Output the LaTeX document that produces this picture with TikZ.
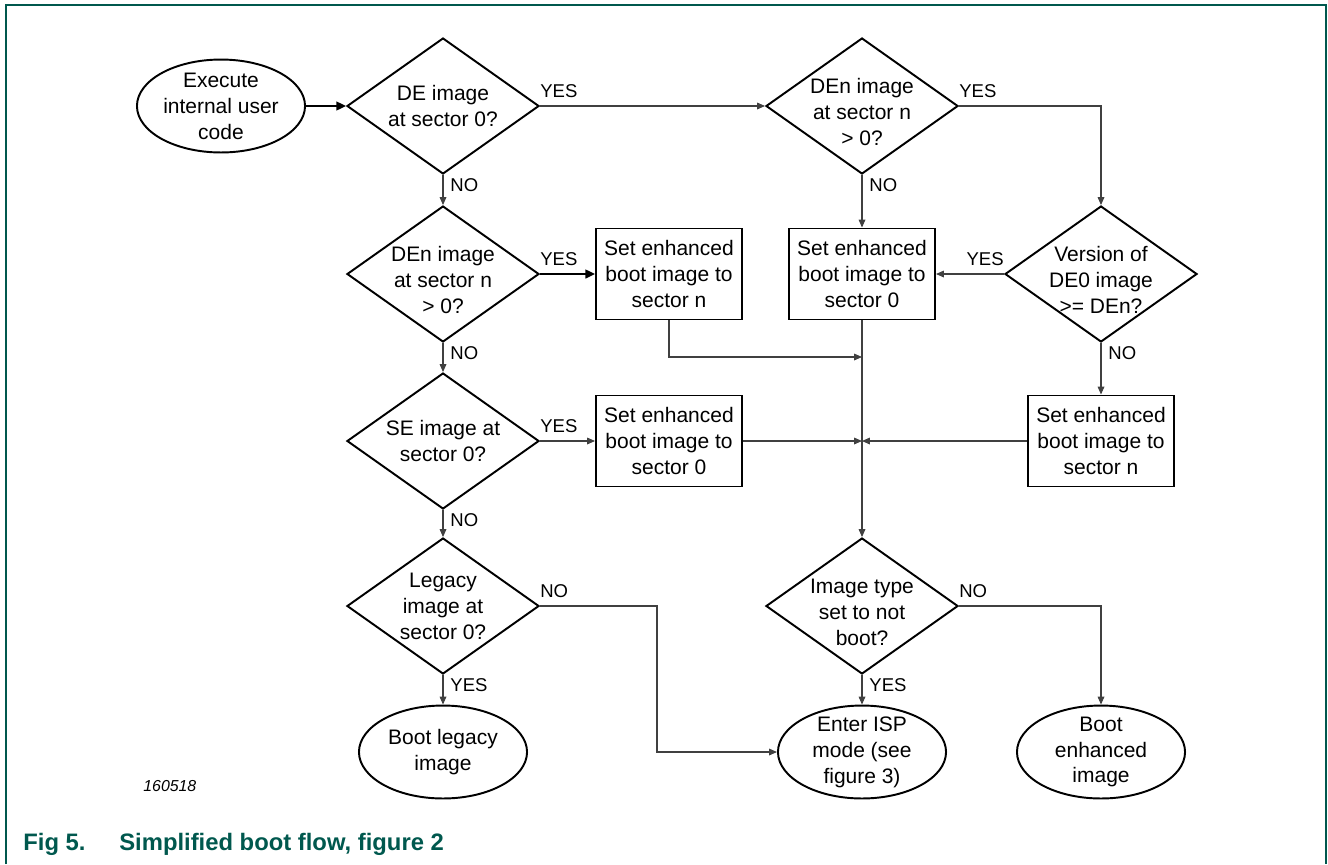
\documentclass[tikz,border=0pt]{standalone}
\usepackage{fontspec}
\setmainfont{Liberation Sans}
\usepackage{tikz}
\usetikzlibrary{shapes.geometric}
\usetikzlibrary{arrows.meta}
\definecolor{nxpgreen}{RGB}{0,88,78}
\tikzstyle{every node}=[font=\fontsize{11.9}{14.7}\selectfont]

\tikzset{
  body/.style={align=center, font=\fontsize{11.9}{14.7}\selectfont},
  decision/.style 2 args={diamond, draw, line width=1.1pt, minimum width=108.9pt,
    minimum height=77.1pt, inner sep=0pt, label={[body, yshift=#2]center:#1}},
  terminal/.style={ellipse, draw, line width=1.1pt, minimum width=95.3pt,
    minimum height=52.7pt, inner sep=0pt, label={[body]center:#1}},
  process/.style={rectangle, draw, line width=1.1pt, minimum width=82.8pt,
    minimum height=51.6pt, inner sep=0pt, align=center},
  flow/.style={draw=black!75, line width=0.6pt, -{Triangle[length=4.5pt,width=3.8pt]}},
  mainflow/.style={draw=black, line width=1.1pt, -{Triangle[length=5.5pt,width=5pt]}},
  answer/.style={font=\fontsize{10.5}{12}\selectfont, inner sep=0pt},
}

\begin{document}
\begin{tikzpicture}[x=0.567pt, y=-0.567pt]

                \useasboundingbox (0,0) rectangle (1328,864);
                \draw[nxpgreen, line width=0.9pt] (6,864) -- (6,5) -- (1326,5) -- (1326,864);

                \node[terminal={Execute\\internal user\\code}] (exec) at (221,106) {};

                \node[decision={DE image\\at sector 0?}{0pt}] (de0) at (443,106) {};
                \node[decision={DEn image\\at sector n\\> 0?}{-3.4pt}] (denTop) at (862,106) {};
                \node[decision={DEn image\\at sector n\\> 0?}{-3.4pt}] (denLeft) at (443,274) {};
                \node[decision={Version of\\DE0 image\\>= DEn?}{-3.4pt}] (version) at (1101,274) {};
                \node[decision={SE image at\\sector 0?}{0pt}] (se0) at (443,441) {};
                \node[decision={Legacy\\image at\\sector 0?}{0pt}] (legacy0) at (443,606) {};
                \node[decision={Image type\\set to not\\boot?}{-3.4pt}] (imgtype) at (862,606) {};

                \node[process] (setN) at (669,274) {Set enhanced\\boot image to\\sector n};
                \node[process] (setZero) at (862,274) {Set enhanced\\boot image to\\sector 0};
                \node[process] (setSE) at (669,441) {Set enhanced\\boot image to\\sector 0};
                \node[process] (setVer) at (1101,441) {Set enhanced\\boot image to\\sector n};

                \node[terminal={Boot legacy\\image}] (bootLegacy) at (443,752) {};
                \node[terminal={Enter ISP\\mode (see\\figure 3)}] (isp) at (862,752) {};
                \node[terminal={Boot\\enhanced\\image}] (bootEnh) at (1101,752) {};

                \coordinate (J1) at (862,357);
                \coordinate (J2) at (862,441);

                % connectors
                \draw[mainflow] (exec.east) -- (de0.west);
                \draw[flow] (de0.east) -- (denTop.west);
                \draw[flow] (de0.south) -- (denLeft.north);
                \draw[flow] (denTop.east) -| (version.north);
                \draw[flow] (denTop.south) -- (setZero.north);
                \draw[mainflow] (denLeft.east) -- (setN.west);
                \draw[flow] (denLeft.south) -- (se0.north);
                \draw[flow] (version.west) -- (setZero.east);
                \draw[flow] (version.south) -- (setVer.north);
                \draw[flow] (setN.south) |- (J1);
                \draw[flow] (setZero.south) -- (imgtype.north);
                \draw[flow] (setSE.east) -- (J2);
                \draw[flow] (setVer.west) -- (J2);
                \draw[flow] (se0.east) -- (setSE.west);
                \draw[flow] (se0.south) -- (legacy0.north);
                \draw[flow] (legacy0.east) -- ++(117,0) |- (isp.west);
                \draw[flow] (legacy0.south) -- (bootLegacy.north);
                \draw[flow] (imgtype.south) -- (isp.north);
                \draw[flow] (imgtype.east) -| (bootEnh.north);

                % answers
                \node[answer, anchor=south west, yshift=4.3pt] (yesA) at (de0.east) {YES};
                \node[answer, anchor=north west, xshift=4pt, yshift=-2pt] (noA) at (de0.south) {NO};
                \node[answer, anchor=south west, yshift=4.3pt] (yesB) at (denTop.east) {YES};
                \node[answer, anchor=north west, xshift=4pt, yshift=-2pt] (noB) at (denTop.south) {NO};
                \node[answer, anchor=south west, yshift=4.3pt] (yesC) at (denLeft.east) {YES};
                \node[answer, anchor=north west, xshift=4pt, yshift=-2pt] (noC) at (denLeft.south) {NO};
                \node[answer, anchor=south east, yshift=4.8pt] (yesD) at (version.west) {YES};
                \node[answer, anchor=north west, xshift=4pt, yshift=-2pt] (noD) at (version.south) {NO};
                \node[answer, anchor=south west, yshift=4.3pt] (yesE) at (se0.east) {YES};
                \node[answer, anchor=north west, xshift=4pt, yshift=-2pt] (noE) at (se0.south) {NO};
                \node[answer, anchor=south west, yshift=4.3pt] (noF) at (legacy0.east) {NO};
                \node[answer, anchor=north west, xshift=4pt, yshift=-2pt] (yesF) at (legacy0.south) {YES};
                \node[answer, anchor=south west, yshift=4.3pt] (noG) at (imgtype.east) {NO};
                \node[answer, anchor=north west, xshift=4pt, yshift=-2pt] (yesG) at (imgtype.south) {YES};

                % caption
                \node[anchor=base west, inner sep=0pt, font=\fontsize{9}{11}\selectfont\itshape] (figid) at (143,791) {160518};
                \node[anchor=base west, inner sep=0pt, text=nxpgreen, font=\fontsize{13.5}{16}\selectfont\bfseries] (figno) at (23,850) {Fig 5.};
                \node[anchor=base west, inner sep=0pt, text=nxpgreen, font=\fontsize{13.5}{16}\selectfont\bfseries] (figtitle) at (119,850) {Simplified boot flow, figure 2};

            \end{tikzpicture}
\end{document}
